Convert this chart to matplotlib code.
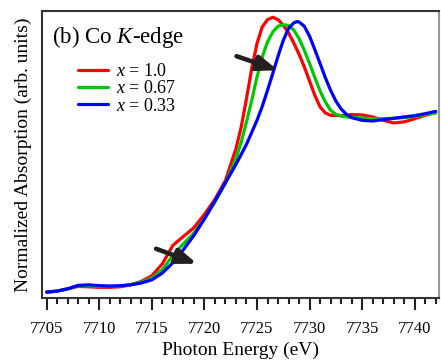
import matplotlib
matplotlib.use("Agg")
import matplotlib.pyplot as plt
from matplotlib.ticker import MultipleLocator

plt.rcParams["font.family"] = "Liberation Serif"
plt.rcParams["mathtext.fontset"] = "custom"
plt.rcParams["mathtext.rm"] = "Liberation Serif"
plt.rcParams["mathtext.it"] = "Liberation Serif:italic"

# photon energy (eV) and normalized absorption
e_red = [7705, 7706, 7707, 7708, 7709, 7710, 7711, 7712, 7713, 7714, 7715, 7716, 7717, 7718,
         7719, 7720, 7721, 7722, 7723, 7723.5, 7724, 7724.5, 7725, 7725.5, 7726, 7726.5, 7727,
         7727.5, 7728, 7728.5, 7729, 7729.5, 7730, 7730.5, 7731, 7731.5, 7732, 7733, 7734, 7735,
         7736, 7737, 7738, 7739, 7740, 7741, 7742]
mu_red = [0.009, 0.015, 0.028, 0.041, 0.039, 0.036, 0.036, 0.039, 0.050, 0.069, 0.101, 0.168,
          0.271, 0.321, 0.370, 0.445, 0.529, 0.635, 0.813, 0.935, 1.093, 1.262, 1.402, 1.495,
          1.536, 1.549, 1.536, 1.505, 1.462, 1.405, 1.342, 1.271, 1.192, 1.112, 1.047, 1.013,
          1.000, 0.998, 1.004, 1.002, 0.991, 0.972, 0.957, 0.963, 0.981, 1.000, 1.015]

e_green = [7705, 7706, 7707, 7708, 7709, 7710, 7711, 7712, 7713, 7714, 7715, 7716, 7717, 7718,
           7719, 7720, 7721, 7722, 7723, 7723.5, 7724, 7724.5, 7725, 7725.5, 7726, 7726.5, 7727,
           7727.5, 7728, 7728.5, 7729, 7729.5, 7730, 7730.5, 7731, 7731.5, 7732, 7732.5, 7733,
           7734, 7735, 7736, 7737, 7738, 7739, 7740, 7741, 7742]
mu_green = [0.009, 0.015, 0.026, 0.045, 0.045, 0.041, 0.041, 0.043, 0.052, 0.065, 0.088, 0.135,
            0.215, 0.280, 0.340, 0.421, 0.514, 0.621, 0.757, 0.850, 0.963, 1.084, 1.215, 1.327,
            1.411, 1.467, 1.499, 1.508, 1.503, 1.477, 1.430, 1.364, 1.290, 1.211, 1.136, 1.075,
            1.028, 1.006, 0.996, 0.987, 0.985, 0.981, 0.981, 0.983, 0.987, 0.994, 1.004, 1.013]

e_blue = [7705, 7706, 7707, 7708, 7709, 7710, 7711, 7712, 7713, 7714, 7715, 7716, 7717, 7718,
          7719, 7720, 7721, 7722, 7723, 7724, 7725, 7725.5, 7726, 7726.5, 7727, 7727.5, 7728,
          7728.5, 7728.8, 7729, 7729.5, 7730, 7730.5, 7731, 7731.5, 7732, 7732.5, 7733, 7733.5,
          7734, 7735, 7736, 7737, 7738, 7739, 7740, 7741, 7742]
mu_blue = [0.009, 0.015, 0.028, 0.047, 0.050, 0.045, 0.043, 0.045, 0.050, 0.060, 0.078, 0.116,
           0.174, 0.247, 0.327, 0.419, 0.520, 0.622, 0.725, 0.837, 0.972, 1.050, 1.140, 1.234,
           1.331, 1.420, 1.486, 1.518, 1.525, 1.523, 1.499, 1.443, 1.368, 1.290, 1.211, 1.140,
           1.080, 1.035, 1.006, 0.987, 0.972, 0.968, 0.976, 0.983, 0.991, 0.998, 1.009, 1.022]

labels = ["$x$ = 1.0", "$x$ = 0.67", "$x$ = 0.33"]
colors = ["#ff0000", "#00c800", "#0000ff"]

# arrows: (tail, head)
arrows = [((7723.06, 1.331), (7727.0, 1.252)),
          ((7715.4, 0.252), (7719.3, 0.168))]

fig = plt.figure(figsize=(4.41, 3.63), dpi=100)
ax = fig.add_axes([0.0952, 0.179, 0.9, 0.792])

for e, mu, lab, c in zip([e_red, e_green, e_blue], [mu_red, mu_green, mu_blue], labels, colors):
    ax.plot(e, mu, color=c, lw=2.3, label=lab, solid_capstyle="round")

for tail, head in arrows:
    ax.annotate("", xy=head, xytext=tail,
                arrowprops=dict(arrowstyle="-|>,head_length=1.2,head_width=0.45",
                                lw=3.3, color="#231f20", shrinkA=0, shrinkB=0))

ax.set_xlim(7704.55, 7742.3)
ax.set_ylim(-0.024, 1.587)
ax.xaxis.set_major_locator(MultipleLocator(5))
ax.xaxis.set_minor_locator(MultipleLocator(1))
ax.set_yticks([])
ax.tick_params(axis="x", which="major", direction="out", length=8.6, width=1.5,
               labelsize=12, pad=8, color="#222222")
ax.tick_params(axis="x", which="minor", direction="out", length=4.3, width=1.5, color="#222222")
for s in ax.spines.values():
    s.set_linewidth(1.5)
    s.set_color("#333333")
ax.spines["right"].set_color("#999999")

ax.set_xlabel("Photon Energy (eV)", fontsize=14, labelpad=3)
ax.set_ylabel("Normalized Absorption (arb. units)", fontsize=14, labelpad=7)

ax.text(0.024, 0.908, "(b) Co $K$-edge", transform=ax.transAxes, fontsize=16.5, va="center")
ax.legend(loc="upper left", bbox_to_anchor=(0.09, 0.818), frameon=False, fontsize=13,
          handlelength=1.7, handletextpad=0.4, labelspacing=0.02, borderpad=0,
          borderaxespad=0)

fig.savefig("out.png", dpi=100)
